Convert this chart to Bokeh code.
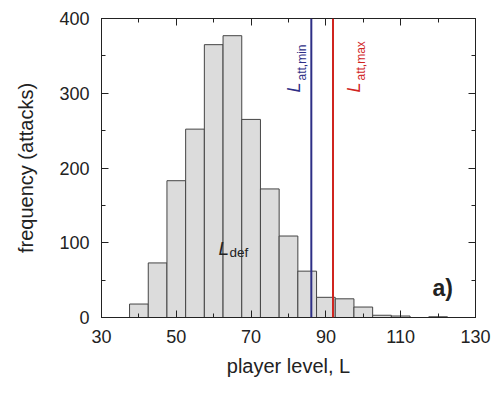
import math
from bokeh.plotting import figure
from bokeh.models import FixedTicker, LinearAxis, Span, Label, ColumnDataSource, Range1d
from bokeh.embed import file_html
from bokeh.resources import INLINE

# data
bin_centers = [40, 45, 50, 55, 60, 65, 70, 75, 80, 85, 90, 95, 100, 105, 110, 115, 120]
counts = [18, 73, 183, 252, 365, 377, 265, 172, 109, 62, 27, 25, 14, 3, 2, 0, 1]
bin_width = 5
l_att_min = 86.1
l_att_max = 91.9
x_major = [30, 50, 70, 90, 110, 130]
x_minor = [40, 60, 80, 100, 120]
y_major = [0, 100, 200, 300, 400]
y_minor = [50, 150, 250, 350]

FONT = "Liberation Sans"
BLUE = "#2e2f86"
RED = "#d0251f"
INK = "#222222"

src = ColumnDataSource(dict(
    left=[c - bin_width / 2 for c in bin_centers],
    right=[c + bin_width / 2 for c in bin_centers],
    top=counts,
    bottom=[0] * len(counts),
))

p = figure(width=492, height=388, output_backend="svg", toolbar_location=None,
           x_range=Range1d(30, 130), y_range=Range1d(0, 400),
           min_border_left=101, min_border_right=17, min_border_top=18, min_border_bottom=71)
p.xgrid.visible = False
p.ygrid.visible = False
p.outline_line_color = INK
p.background_fill_color = "white"
p.border_fill_color = "white"

p.quad(left="left", right="right", top="top", bottom="bottom", source=src,
       fill_color="#dcdcdc", line_color="#444444", line_width=1)

p.add_layout(Span(location=l_att_min, dimension="height", line_color=BLUE, line_width=2))
p.add_layout(Span(location=l_att_max, dimension="height", line_color=RED, line_width=2))


def style_axis(ax, labels=True):
    ax.axis_line_color = INK
    ax.major_tick_line_color = INK
    ax.minor_tick_line_color = INK
    ax.major_tick_in = 7
    ax.major_tick_out = 0
    ax.minor_tick_in = 4
    ax.minor_tick_out = 0
    ax.major_label_text_font = FONT
    if labels:
        ax.major_label_text_font_size = "18px"
        ax.major_label_text_color = INK
    else:
        ax.major_label_text_font_size = "1px"
        ax.major_label_text_color = None
        ax.major_label_standoff = 0
    ax.axis_label_text_font = FONT
    ax.axis_label_text_font_style = "normal"
    ax.axis_label_text_color = INK


p.xaxis.ticker = FixedTicker(ticks=x_major, minor_ticks=x_minor)
p.yaxis.ticker = FixedTicker(ticks=y_major, minor_ticks=y_minor)
style_axis(p.xaxis[0])
style_axis(p.yaxis[0])
p.xaxis.axis_label = "player level, L"
p.yaxis.axis_label = "frequency (attacks)"
p.xaxis.axis_label_text_font_size = "20px"
p.yaxis.axis_label_text_font_size = "20px"
p.xaxis.major_label_standoff = 12
p.xaxis.axis_label_standoff = 9
p.yaxis.major_label_standoff = 12
p.yaxis.axis_label_standoff = 19

top_ax = LinearAxis(ticker=FixedTicker(ticks=x_major, minor_ticks=x_minor))
style_axis(top_ax, labels=False)
p.add_layout(top_ax, "above")
right_ax = LinearAxis(ticker=FixedTicker(ticks=y_major, minor_ticks=y_minor))
style_axis(right_ax, labels=False)
p.add_layout(right_ax, "right")


def lab(x, y, text, size, color=INK, style="normal", angle=0, xo=0, yo=0):
    p.add_layout(Label(x=x, y=y, text=text, text_font=FONT, text_font_size=size,
                       text_font_style=style, text_color=color, angle=angle,
                       x_offset=xo, y_offset=yo, text_align="left",
                       text_baseline="alphabetic"))

# annotations
lab(81.6, 301, "L", "18px", BLUE, "italic", math.pi / 2)
lab(81.6, 301, "att,min", "12px", BLUE, "normal", math.pi / 2, xo=8, yo=12)
lab(97.6, 301, "L", "18px", RED, "italic", math.pi / 2)
lab(97.6, 301, "att,max", "12px", RED, "normal", math.pi / 2, xo=7, yo=12)
lab(61.3, 92.3, "L", "19px", INK, "italic")
lab(61.3, 92.3, "def", "13.5px", INK, "normal", xo=11, yo=-4)
lab(118.5, 40, "a)", "23px", INK, "bold")

open("out.html", "w").write(file_html(p, INLINE))
